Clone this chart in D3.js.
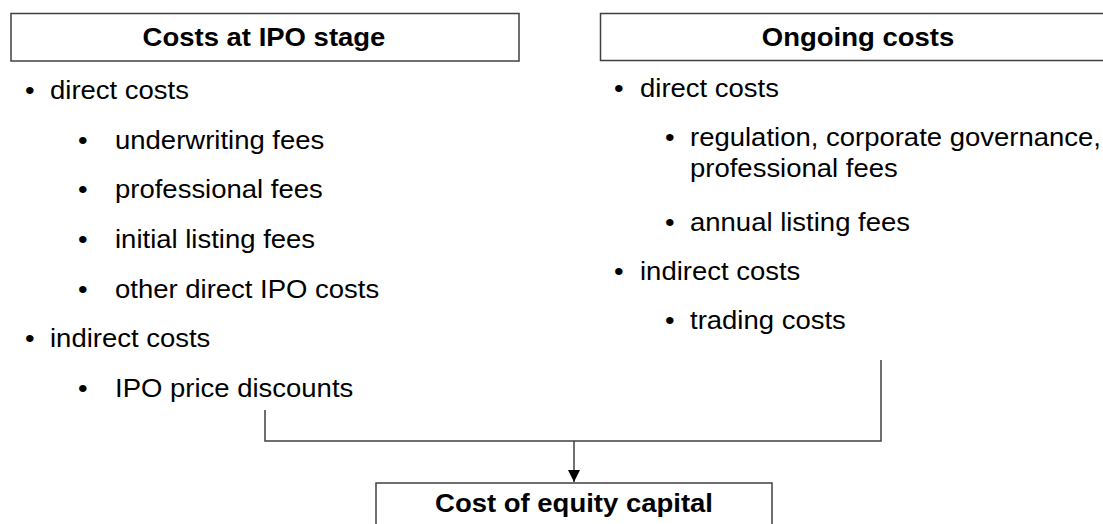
<!DOCTYPE html>
<html>
<head>
<meta charset="utf-8">
<script src="https://cdn.jsdelivr.net/npm/d3@7"></script>
<style>
  body { margin: 0; background: #fff; }
  text { font-family: "Liberation Sans", Arial, sans-serif; fill: #000; }
</style>
</head>
<body>
<div id="container"></div>
<script>
/* DATA */
const headers = ["Costs at IPO stage", "Ongoing costs"]
const ipoItems = ["direct costs", "underwriting fees", "professional fees", "initial listing fees",
                  "other direct IPO costs", "indirect costs", "IPO price discounts"]
const ipoLevels = [1, 2, 2, 2, 2, 1, 2]
const ongoingItems = [["direct costs"], ["regulation, corporate governance,", "professional fees"],
                      ["annual listing fees"], ["indirect costs"], ["trading costs"]]
const ongoingLevels = [1, 2, 2, 1, 2]
const resultLabel = "Cost of equity capital"

/* CONSTANTS */
const width = 1103
const height = 524
const fontSize = 26
const stretch = 1.057   // the source text is a little wider than it is tall
const lineColor = "#404040"

const svg = d3.select("#container")
  .append("svg")
  .attr("width", width)
  .attr("height", height)

svg.append("rect").attr("width", width).attr("height", height).attr("fill", "#fff")

// places a text at (x, y) and stretches it sideways
const place = (x, y) => `translate(${x},${y}) scale(${stretch},1)`

/* HEADER BOXES */
const boxes = [
  {x: 11, y: 13.5, w: 508, h: 47.5},
  {x: 600.5, y: 13.5, w: 520, h: 47}
]
svg.selectAll(".hbox")
  .data(boxes)
  .join("rect")
  .attr("class", "hbox")
  .attr("x", d => d.x)
  .attr("y", d => d.y)
  .attr("width", d => d.w)
  .attr("height", d => d.h)
  .attr("fill", "none")
  .attr("stroke", lineColor)
  .attr("stroke-width", 1.5)

svg.selectAll(".htext")
  .data(headers)
  .join("text")
  .attr("class", "htext")
  .attr("transform", (d, i) => place(i === 0 ? 264 : 858, 46))
  .attr("text-anchor", "middle")
  .style("font-weight", "bold")
  .style("font-size", fontSize + "px")
  .text(d => d)

/* LEFT COLUMN */
const yLeft = d3.scaleLinear().domain([0, ipoItems.length - 1]).range([99, 397])
const leftX = {1: {b: 25, t: 50}, 2: {b: 78, t: 115}}

const left = svg.selectAll(".left")
  .data(ipoItems)
  .join("g")
  .attr("class", "left")
  .style("font-size", fontSize + "px")

left.append("text")
  .attr("transform", (d, i) => place(leftX[ipoLevels[i]].b, yLeft(i)))
  .text("\u2022")
left.append("text")
  .attr("transform", (d, i) => place(leftX[ipoLevels[i]].t, yLeft(i)))
  .text(d => d)

/* RIGHT COLUMN */
const rowStep = 49
const wrapStep = 31
let offset = 0
const rightRows = ongoingItems.map((lines, i) => {
  const y = 97 + i * rowStep + offset
  offset += (lines.length - 1) * (wrapStep + 5)
  return {lines, level: ongoingLevels[i], y}
})
const rightX = {1: {b: 614, t: 640}, 2: {b: 665, t: 690}}

const right = svg.selectAll(".right")
  .data(rightRows)
  .join("g")
  .attr("class", "right")
  .style("font-size", fontSize + "px")

right.append("text")
  .attr("transform", d => place(rightX[d.level].b, d.y))
  .text("\u2022")
right.each(function(d) {
  d3.select(this).selectAll(".line")
    .data(d.lines)
    .join("text")
    .attr("class", "line")
    .attr("transform", (l, j) => place(rightX[d.level].t, d.y + j * wrapStep))
    .text(l => l)
})

/* CONNECTORS */
const joinY = 441
svg.append("path")
  .attr("d", `M265,410V${joinY}H881V360`)
  .attr("fill", "none")
  .attr("stroke", lineColor)
  .attr("stroke-width", 1.5)

svg.append("defs").append("marker")
  .attr("id", "arrow")
  .attr("viewBox", "0 0 10 10")
  .attr("refX", 10)
  .attr("refY", 5)
  .attr("markerWidth", 12)
  .attr("markerHeight", 13)
  .attr("markerUnits", "userSpaceOnUse")
  .attr("orient", "auto")
  .append("path")
  .attr("d", "M0,0L10,5L0,10Z")
  .attr("fill", "#000")

svg.append("line")
  .attr("x1", 574).attr("y1", joinY)
  .attr("x2", 574).attr("y2", 482)
  .attr("stroke", lineColor)
  .attr("stroke-width", 1.5)
  .attr("marker-end", "url(#arrow)")

/* RESULT BOX */
svg.append("rect")
  .attr("x", 376)
  .attr("y", 483)
  .attr("width", 396)
  .attr("height", 60)
  .attr("fill", "none")
  .attr("stroke", lineColor)
  .attr("stroke-width", 1.5)

svg.append("text")
  .attr("transform", place(574, 512))
  .attr("text-anchor", "middle")
  .style("font-weight", "bold")
  .style("font-size", fontSize + "px")
  .text(resultLabel)
</script>
</body>
</html>
